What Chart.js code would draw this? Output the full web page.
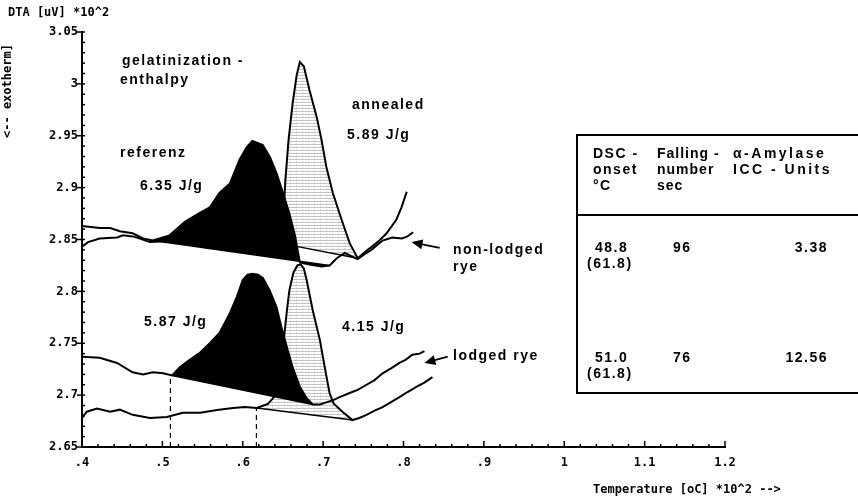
<!DOCTYPE html>
<html>
<head>
<meta charset="utf-8">
<script src="https://cdn.jsdelivr.net/npm/chart.js@4.4.0/dist/chart.umd.min.js"></script>
<style>
  html, body { margin: 0; background: #fff; }
</style>
</head>
<body>
<canvas id="dta" width="858" height="501"></canvas>
<script>
// tick labels as printed on the plot
const xTickLabels = ['.4', '.5', '.6', '.7', '.8', '.9', '1', '1.1', '1.2'];
const yTickLabels = ['2.65', '2.7', '2.75', '2.8', '2.85', '2.9', '2.95', '3', '3.05'];

// non-lodged rye: [temperature *10^2, DTA *10^2]
const refUpper = [
  [.400, 2.863], [.422, 2.861], [.435, 2.861], [.447, 2.858], [.463, 2.856], [.476, 2.851],
  [.488, 2.849], [.509, 2.854], [.528, 2.867], [.547, 2.876], [.559, 2.881], [.571, 2.895],
  [.584, 2.904], [.596, 2.927], [.605, 2.939], [.612, 2.945], [.625, 2.941], [.634, 2.929],
  [.642, 2.914], [.650, 2.895], [.658, 2.875], [.665, 2.854], [.671, 2.828], [.683, 2.826],
  [.698, 2.824], [.708, 2.825], [.717, 2.832], [.727, 2.837], [.735, 2.834], [.743, 2.831],
  [.752, 2.836], [.760, 2.840], [.774, 2.849], [.786, 2.852], [.798, 2.851], [.805, 2.853],
  [.812, 2.857]
];
const annUpper = [
  [.400, 2.843], [.4075, 2.8475], [.422, 2.851], [.4435, 2.852], [.451, 2.854], [.463, 2.853],
  [.472, 2.851], [.4845, 2.8475], [.509, 2.8485], [.547, 2.8465], [.584, 2.8456], [.621, 2.8456],
  [.646, 2.8465], [.650, 2.864], [.653, 2.907], [.657, 2.946], [.662, 2.981], [.667, 3.008],
  [.671, 3.021], [.676, 3.017], [.683, 2.994], [.692, 2.968], [.698, 2.946], [.704, 2.920],
  [.712, 2.895], [.723, 2.869], [.733, 2.8465], [.743, 2.832], [.752, 2.838], [.7615, 2.8436],
  [.770, 2.849], [.779, 2.856], [.791, 2.869], [.7975, 2.881], [.804, 2.896]
];

// lodged rye
const refLower = [
  [.400, 2.737], [.422, 2.736], [.4435, 2.731], [.463, 2.722], [.476, 2.720], [.488, 2.722],
  [.501, 2.721], [.512, 2.719], [.522, 2.727], [.534, 2.734], [.547, 2.741], [.559, 2.750],
  [.571, 2.760], [.584, 2.779], [.5925, 2.7945], [.600, 2.811], [.606, 2.816], [.612, 2.817],
  [.619, 2.816], [.625, 2.813], [.6335, 2.801], [.642, 2.785], [.648, 2.766], [.655, 2.746],
  [.662, 2.727], [.671, 2.708], [.6795, 2.697], [.687, 2.691], [.696, 2.691], [.704, 2.693],
  [.712, 2.695], [.7205, 2.698], [.733, 2.702], [.743, 2.705], [.754, 2.710], [.764, 2.7145],
  [.774, 2.721], [.785, 2.726], [.795, 2.731], [.8025, 2.734], [.811, 2.739], [.820, 2.740],
  [.826, 2.7425]
];
const annLower = [
  [.400, 2.678], [.406, 2.684], [.4186, 2.687], [.435, 2.684], [.447, 2.686], [.463, 2.681],
  [.4845, 2.678], [.5056, 2.679], [.5255, 2.683], [.547, 2.683], [.568, 2.6856], [.588, 2.6876],
  [.6025, 2.6885], [.6174, 2.6876], [.631, 2.6914], [.641, 2.700], [.647, 2.724], [.651, 2.753],
  [.655, 2.782], [.658, 2.801], [.663, 2.818], [.668, 2.825], [.672, 2.826], [.676, 2.822],
  [.6795, 2.811], [.687, 2.782], [.696, 2.753], [.702, 2.727], [.708, 2.702], [.713, 2.692],
  [.724, 2.684], [.7366, 2.676], [.745, 2.678], [.754, 2.681], [.764, 2.685], [.774, 2.6885],
  [.785, 2.6934], [.795, 2.698], [.805, 2.703], [.816, 2.708], [.826, 2.712], [.836, 2.7174]
];

// integration baselines under each peak
const baseRefUpper = [[.488, 2.849], [.708, 2.825]];
const baseAnnUpper = [[.646, 2.8465], [.743, 2.832]];
const baseRefLower = [[.512, 2.719], [.687, 2.691]];
const baseAnnLower = [[.6174, 2.6876], [.7366, 2.676]];

// onset markers (dashed)
const onsetRefLower = [[.51, 2.65], [.51, 2.719]];
const onsetAnnLower = [[.617, 2.65], [.617, 2.6876]];

const enthalpy = ['6.35 J/g', '5.89 J/g', '5.87 J/g', '4.15 J/g'];

// table on the right
const tableHead = [['DSC -', 'onset', '°C'], ['Falling -', 'number', 'sec'], ['α-Amylase', 'ICC - Units']];
const dscOnset = ['48.8', '51.0'];
const dscOnsetAnnealed = ['(61.8)', '(61.8)'];
const fallingNumber = ['96', '76'];
const amylaseUnits = ['3.38', '12.56'];

const plotterFont = {family: '"DejaVu Sans Mono", monospace', size: 12, weight: 'bold'};
const textFont = 'bold 14px "Liberation Sans", Arial, sans-serif';

function makeStipple() {
    const c = document.createElement('canvas');
    c.width = 6; c.height = 3;
    const g = c.getContext('2d');
    g.fillStyle = '#fff';
    g.fillRect(0, 0, 6, 3);
    g.fillStyle = '#c4c4c4';
    g.fillRect(0, 0, 6, 1);
    g.fillStyle = '#dcdcdc';
    g.fillRect(2, 2, 1, 1);
    return g.createPattern(c, 'repeat');
}
const stipple = makeStipple();

const toXY = pts => pts.map(([x, y]) => ({x, y}));

function curve(pts, target, colour, order) {
    return {
        data: toXY(pts), borderColor: '#000', borderWidth: 2, backgroundColor: colour,
        fill: target, pointRadius: 0, tension: 0, order: order
    };
}
function straight(pts, width, dash) {
    return {
        data: toXY(pts), borderColor: '#000', borderWidth: width, borderDash: dash || [],
        fill: false, pointRadius: 0, tension: 0, order: 1
    };
}

// minor/major tick marks (inward, like the plotter)
const axisTicks = {
    id: 'axisTicks',
    afterDraw(chart) {
        const {ctx, chartArea, scales: {x, y}} = chart;
        ctx.save();
        ctx.strokeStyle = '#000';
        ctx.lineWidth = 1.5;
        for (let i = 0; i <= 40; i++) {
            const py = y.getPixelForValue(2.65 + i * 0.01);
            const major = i % 5 === 0;
            ctx.beginPath();
            ctx.moveTo(chartArea.left - (major ? 5 : 0), py);
            ctx.lineTo(chartArea.left + 3, py);
            ctx.stroke();
        }
        for (let i = 0; i <= 40; i++) {
            const px = x.getPixelForValue(0.4 + i * 0.02);
            const major = i % 5 === 0;
            ctx.beginPath();
            ctx.moveTo(px, chartArea.bottom);
            ctx.lineTo(px, chartArea.bottom - (major ? 6 : 3));
            ctx.stroke();
        }
        ctx.restore();
    }
};

function arrow(ctx, x, y, from, to) {
    const x0 = x.getPixelForValue(from[0]), y0 = y.getPixelForValue(from[1]);
    const x1 = x.getPixelForValue(to[0]), y1 = y.getPixelForValue(to[1]);
    const a = Math.atan2(y1 - y0, x1 - x0);
    ctx.beginPath();
    ctx.moveTo(x0, y0);
    ctx.lineTo(x1 - 6 * Math.cos(a), y1 - 6 * Math.sin(a));
    ctx.stroke();
    ctx.beginPath();
    ctx.moveTo(x1, y1);
    ctx.lineTo(x1 - 11 * Math.cos(a) + 5 * Math.sin(a), y1 - 11 * Math.sin(a) - 5 * Math.cos(a));
    ctx.lineTo(x1 - 11 * Math.cos(a) - 5 * Math.sin(a), y1 - 11 * Math.sin(a) + 5 * Math.cos(a));
    ctx.closePath();
    ctx.fill();
}

const notes = {
    id: 'notes',
    afterDraw(chart) {
        const {ctx, scales: {x, y}} = chart;
        ctx.save();
        ctx.fillStyle = '#000';
        ctx.strokeStyle = '#000';
        ctx.textBaseline = 'middle';
        ctx.textAlign = 'left';

        // axis titles
        ctx.font = 'bold 12px "DejaVu Sans Mono", monospace';
        ctx.fillText('DTA [uV] *10^2', 8, 13);
        ctx.fillText('Temperature [oC] *10^2 -->', 593, 490);
        ctx.save();
        ctx.translate(8, 138);
        ctx.rotate(-Math.PI / 2);
        ctx.fillText('<-- exotherm]', 0, 0);
        ctx.restore();

        // peak annotations
        ctx.font = textFont;
        ctx.letterSpacing = '1.5px';
        ctx.fillText('gelatinization -', 122, 61);
        ctx.fillText('enthalpy', 120, 80);
        ctx.fillText('referenz', 120, 153);
        ctx.fillText(enthalpy[0], 140, 186);
        ctx.fillText('annealed', 352, 105);
        ctx.fillText(enthalpy[1], 347, 135);
        ctx.fillText(enthalpy[2], 144, 322);
        ctx.fillText(enthalpy[3], 342, 327);
        ctx.fillText('non-lodged', 453, 250);
        ctx.fillText('rye', 453, 267);
        ctx.fillText('lodged rye', 453, 356);

        ctx.lineWidth = 1.8;
        arrow(ctx, x, y, [.845, 2.842], [.810, 2.8475]);
        arrow(ctx, x, y, [.855, 2.737], [.826, 2.731]);

        // table
        ctx.lineWidth = 2;
        ctx.beginPath();
        ctx.moveTo(858, 135); ctx.lineTo(577, 135); ctx.lineTo(577, 393); ctx.lineTo(858, 393);
        ctx.moveTo(577, 215); ctx.lineTo(858, 215);
        ctx.stroke();

        const colX = [593, 657, 733];
        const colSpacing = ['1.5px', '1px', '2.5px'];
        tableHead.forEach((lines, c) => {
            ctx.letterSpacing = colSpacing[c];
            lines.forEach((t, r) => ctx.fillText(t, colX[c], 154 + r * 16));
        });
        ctx.letterSpacing = '1.5px';
        const rowY = [248, 358];
        rowY.forEach((ry, i) => {
            ctx.fillText(dscOnset[i], 595, ry);
            ctx.fillText(dscOnsetAnnealed[i], 587, ry + 16);
            ctx.fillText(fallingNumber[i], 673, ry);
            ctx.textAlign = 'right';
            ctx.fillText(amylaseUnits[i], 828, ry);
            ctx.textAlign = 'left';
        });
        ctx.restore();
    }
};

new Chart(document.getElementById('dta'), {
    type: 'line',
    data: {
        datasets: [
            curve(refUpper, 4, '#000', 2),
            curve(annUpper, 5, stipple, 3),
            curve(refLower, 6, '#000', 2),
            curve(annLower, 7, stipple, 3),
            straight(baseRefUpper, 1.5),
            straight(baseAnnUpper, 1.5),
            straight(baseRefLower, 1.5),
            straight(baseAnnLower, 1.5),
            straight(onsetRefLower, 1.2, [5, 4]),
            straight(onsetAnnLower, 1.2, [5, 4])
        ]
    },
    options: {
        responsive: false,
        animation: false,
        layout: {padding: {left: 0, right: 133, top: 32, bottom: 0}},
        plugins: {legend: {display: false}, tooltip: {enabled: false}},
        scales: {
            x: {
                type: 'linear', min: 0.4, max: 1.2,
                grid: {display: false, drawTicks: false},
                border: {display: true, color: '#000', width: 2},
                ticks: {
                    stepSize: 0.1, autoSkip: false, maxRotation: 0, padding: 9,
                    color: '#000', font: plotterFont,
                    callback: (v, i) => xTickLabels[i]
                },
                afterFit: s => { s.height = 54; }
            },
            y: {
                type: 'linear', min: 2.65, max: 3.05,
                grid: {display: false, drawTicks: false},
                border: {display: true, color: '#000', width: 2},
                ticks: {
                    stepSize: 0.05, padding: 4,
                    color: '#000', font: plotterFont,
                    callback: (v, i) => yTickLabels[i]
                },
                afterFit: s => { s.width = 82; }
            }
        }
    },
    plugins: [axisTicks, notes]
});
</script>
</body>
</html>
